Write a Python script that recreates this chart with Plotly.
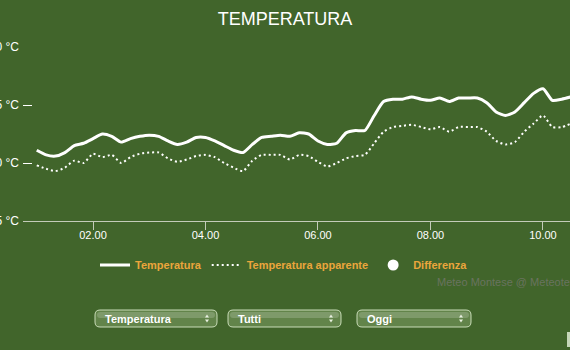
import pandas as pd
import plotly.graph_objects as go

# Readings every 10 minutes, from 01:00 to 10:30
DAY = "2024-07-15"
times = pd.date_range(f"{DAY} 01:00", periods=58, freq="10min")

temperatura = [
    21.1, 20.7, 20.6, 20.9, 21.5, 21.7, 22.1, 22.5, 22.3, 21.8,
    22.1, 22.3, 22.4, 22.3, 21.9, 21.6, 21.8, 22.2, 22.2, 21.9,
    21.5, 21.1, 20.9, 21.6, 22.2, 22.3, 22.4, 22.3, 22.6, 22.5,
    21.9, 21.6, 21.7, 22.6, 22.8, 22.8, 24.1, 25.3, 25.5, 25.5,
    25.7, 25.5, 25.4, 25.6, 25.3, 25.6, 25.6, 25.6, 25.2, 24.4,
    24.1, 24.4, 25.2, 26.0, 26.4, 25.4, 25.5, 25.7,
]
temperatura_apparente = [
    19.8, 19.5, 19.3, 19.6, 20.2, 20.0, 20.8, 20.5, 20.7, 20.0,
    20.5, 20.8, 20.9, 20.9, 20.4, 20.1, 20.3, 20.6, 20.7, 20.5,
    20.0, 19.6, 19.3, 20.2, 20.7, 20.7, 20.7, 20.3, 20.7, 20.6,
    20.1, 19.7, 20.0, 20.4, 20.6, 20.7, 21.7, 22.7, 23.1, 23.2,
    23.3, 23.1, 22.9, 23.1, 22.7, 23.1, 23.1, 23.1, 22.7, 21.9,
    21.6, 21.8, 22.7, 23.4, 24.1, 23.1, 23.1, 23.4,
]

y_ticks = [15, 20, 25, 30]
y_tick_labels = [f"{v} °C" for v in y_ticks]
selectors = ["Temperatura", "Tutti", "Oggi"]

BG = "#41652b"
ORANGE = "#eba53c"
FONT = "Liberation Sans, Arial, sans-serif"

W, H = 570, 350
ML, MR, MT, MB = 23, 0, 47, 129
PW, PH = W - ML - MR, H - MT - MB


def px_x(px):
    return (px - ML) / PW


def px_y(py):
    return (H - MB - py) / PH


def rounded_box(x0, y0, x1, y1, r):
    rx, ry = r / PW, r / PH
    a, b, c, d = px_x(x0), px_x(x1), px_y(y1), px_y(y0)
    return (
        f"M{a + rx},{c} L{b - rx},{c} Q{b},{c} {b},{c + ry} "
        f"L{b},{d - ry} Q{b},{d} {b - rx},{d} L{a + rx},{d} "
        f"Q{a},{d} {a},{d - ry} L{a},{c + ry} Q{a},{c} {a + rx},{c} Z"
    )


fig = go.Figure()
fig.add_trace(go.Scatter(
    x=times, y=temperatura, name="Temperatura", mode="lines",
    line=dict(color="white", width=3, shape="spline", smoothing=0.6),
))
fig.add_trace(go.Scatter(
    x=times, y=temperatura_apparente, name="Temperatura apparente", mode="lines",
    line=dict(color="white", width=2, dash="2px,3px", shape="spline", smoothing=0.6),
))
fig.add_trace(go.Scatter(
    x=[None], y=[None], name="Differenza", mode="markers",
    marker=dict(color="white", size=11, symbol="circle"),
))

shapes = []
annotations = []

# Selection boxes below the chart
boxes = [(95, 310, 217, 327), (228, 310, 341, 327), (357, 310, 471, 327)]
for (x0, y0, x1, y1), label in zip(boxes, selectors):
    shapes.append(dict(type="path", xref="paper", yref="paper",
                       path=rounded_box(x0, y0, x1, y1, 5),
                       fillcolor="#62844a", line=dict(color="#c9dcb8", width=1)))
    shapes.append(dict(type="path", xref="paper", yref="paper",
                       path=rounded_box(x0 + 2, y0 + 2, x1 - 2, y0 + 8, 3),
                       fillcolor="rgba(255,255,255,0.18)", line=dict(width=0)))
    annotations.append(dict(xref="paper", yref="paper", x=px_x(x0 + 8), y=px_y((y0 + y1) / 2),
                            xanchor="left", yanchor="middle", showarrow=False, text=f"<b>{label}</b>",
                            font=dict(family=FONT, size=11, color="white")))
    ax = x1 - 10
    cy = (y0 + y1) / 2
    shapes.append(dict(type="path", xref="paper", yref="paper",
                       path=f"M{px_x(ax - 2)},{px_y(cy - 1)} L{px_x(ax + 2)},{px_y(cy - 1)} L{px_x(ax)},{px_y(cy - 4)} Z",
                       fillcolor="#e8f0e0", line=dict(width=0)))
    shapes.append(dict(type="path", xref="paper", yref="paper",
                       path=f"M{px_x(ax - 2)},{px_y(cy + 1)} L{px_x(ax + 2)},{px_y(cy + 1)} L{px_x(ax)},{px_y(cy + 4)} Z",
                       fillcolor="#e8f0e0", line=dict(width=0)))

# Edge of the neighbouring control at the right border
shapes.append(dict(type="rect", xref="paper", yref="paper",
                   x0=px_x(567), x1=px_x(572), y0=px_y(347), y1=px_y(332),
                   fillcolor="#c5d6b8", line=dict(width=0)))

annotations.append(dict(xref="paper", yref="paper", x=px_x(435), y=px_y(282),
                        xanchor="left", yanchor="middle", showarrow=False,
                        text="Meteo Montese @ Meteoterm",
                        font=dict(family=FONT, size=11, color="#69735f")))

fig.update_layout(
    width=W, height=H, autosize=False,
    margin=dict(l=ML, r=MR, t=MT, b=MB, pad=0),
    paper_bgcolor=BG, plot_bgcolor=BG,
    title=dict(text="TEMPERATURA", x=0.5, xref="container", xanchor="center",
               y=1 - 19 / H, yref="container", yanchor="middle",
               font=dict(family=FONT, size=18, color="white")),
    showlegend=True,
    legend=dict(orientation="h", x=px_x(284), xanchor="center", y=px_y(265), yanchor="middle",
                font=dict(family=FONT, size=11, color=ORANGE, weight="bold"),
                bgcolor="rgba(0,0,0,0)", itemwidth=30),
    xaxis=dict(
        range=[f"{DAY} 00:45:20", f"{DAY} 10:28:50"],
        tickformat="%H.%M", dtick=2 * 3600 * 1000, tick0=f"{DAY} 00:00",
        showgrid=False, zeroline=False,
        showline=True, linecolor="#c3cbb9", linewidth=1,
        ticks="outside", ticklen=8, tickcolor="#c3cbb9", tickwidth=1,
        ticklabelstandoff=-4,
        tickfont=dict(family=FONT, size=11, color="white"),
        automargin=False, fixedrange=True,
    ),
    yaxis=dict(
        range=[15, 30], tickvals=y_ticks, ticktext=y_tick_labels,
        showgrid=False, zeroline=False, showline=False,
        ticks="inside", ticklen=9, tickcolor="white", tickwidth=1,
        ticklabelstandoff=3,
        tickfont=dict(family=FONT, size=12, color="white"),
        automargin=False, fixedrange=True,
    ),
    shapes=shapes,
    annotations=annotations,
)

fig.write_html("out.html", config={"displayModeBar": False})
